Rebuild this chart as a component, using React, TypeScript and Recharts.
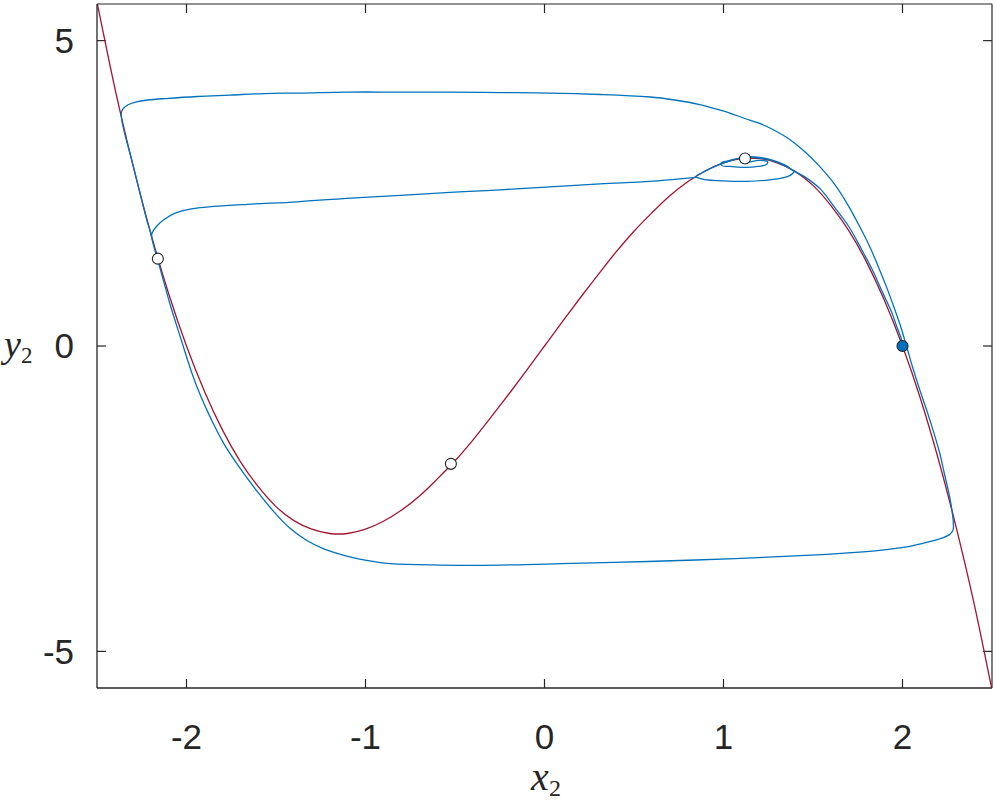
import { ComposedChart, Line, Scatter, XAxis, YAxis, ReferenceLine } from 'recharts';

const X_TICKS = [-2, -1, 0, 1, 2];
const Y_TICKS = [-5, 0, 5];
const X_DOMAIN: [number, number] = [-2.5, 2.5];
const Y_DOMAIN: [number, number] = [-5.6, 5.6];

const AXIS = '#262626';
const RED = '#A2142F';
const BLUE = '#0072BD';

// cubic nullcline (red)
const nullcline: [number, number][] = [
  [-2.5, 5.63], [-2.4, 4.22], [-2.3, 2.97], [-2.2, 1.85], [-2.1, 0.86], [-2.0, 0],
  [-1.9, -0.74], [-1.8, -1.37], [-1.7, -1.89], [-1.6, -2.3], [-1.5, -2.63], [-1.4, -2.86],
  [-1.3, -3.0], [-1.2, -3.07], [-1.1, -3.07], [-1.0, -3.0], [-0.9, -2.87], [-0.8, -2.69],
  [-0.7, -2.46], [-0.6, -2.18], [-0.5, -1.88], [-0.4, -1.54], [-0.3, -1.17], [-0.2, -0.79],
  [-0.1, -0.4], [0, 0], [0.1, 0.4], [0.2, 0.79], [0.3, 1.17], [0.4, 1.54], [0.5, 1.88],
  [0.6, 2.18], [0.7, 2.46], [0.8, 2.69], [0.9, 2.87], [1.0, 3.0], [1.1, 3.07], [1.2, 3.07],
  [1.3, 3.0], [1.4, 2.86], [1.5, 2.63], [1.6, 2.3], [1.7, 1.89], [1.8, 1.37], [1.9, 0.74],
  [2.0, 0], [2.1, -0.86], [2.2, -1.85], [2.3, -2.97], [2.4, -4.22], [2.5, -5.63],
];

// spiral around the upper knee, then down the right branch to the stable point
const settlePath: [number, number][] = [
  [1.135, 3.007], [1.202, 3.039], [1.247, 2.998], [1.191, 2.941], [1.119, 2.925],
  [1.035, 2.941], [0.985, 2.974], [1.024, 3.031], [1.119, 3.088], [1.213, 3.072],
  [1.303, 3.007], [1.37, 2.908], [1.392, 2.843], [1.342, 2.761], [1.23, 2.712],
  [1.13, 2.696], [1.007, 2.704], [0.851, 2.761], [0.895, 2.859], [0.979, 2.974],
  [1.063, 3.056], [1.119, 3.096], [1.202, 3.088], [1.286, 3.031], [1.347, 2.958],
  [1.397, 2.859], [1.459, 2.761], [1.543, 2.565], [1.621, 2.271], [1.699, 1.961],
  [1.771, 1.585], [1.838, 1.209], [1.888, 0.882], [1.939, 0.556], [1.967, 0.327],
  [1.994, 0.114], [2.0, 0],
];

// large relaxation loop
const orbitPath: [number, number][] = [
  [0.851, 2.761], [0.728, 2.729], [0.589, 2.696], [0.31, 2.655], [0.031, 2.606],
  [-0.248, 2.557], [-0.527, 2.516], [-0.806, 2.467], [-1.102, 2.418], [-1.381, 2.361],
  [-1.66, 2.32], [-1.85, 2.285], [-1.98, 2.24], [-2.06, 2.18], [-2.123, 2.075],
  [-2.167, 1.961], [-2.19, 1.863], [-2.195, 1.781], [-2.162, 1.422], [-2.131, 1.095],
  [-2.089, 0.654], [-2.031, 0.114], [-1.972, -0.425], [-1.919, -0.833], [-1.863, -1.193],
  [-1.794, -1.585], [-1.707, -1.977], [-1.604, -2.386], [-1.51, -2.72], [-1.42, -2.99],
  [-1.33, -3.18], [-1.236, -3.317], [-1.14, -3.41], [-1.046, -3.48], [-0.95, -3.53],
  [-0.862, -3.562], [-0.639, -3.585], [-0.393, -3.592], [0.092, -3.565], [0.577, -3.529],
  [1.063, -3.48], [1.548, -3.415], [1.78, -3.37], [1.911, -3.333], [2.04, -3.28],
  [2.151, -3.203], [2.225, -3.14], [2.262, -3.088], [2.28, -3.03], [2.285, -2.958],
  [2.279, -2.745], [2.262, -2.451], [2.234, -2.092], [2.206, -1.732], [2.151, -1.193],
  [2.095, -0.703], [2.056, -0.343], [2.022, 0], [1.989, 0.327], [1.95, 0.654],
  [1.911, 0.964], [1.866, 1.291], [1.816, 1.634], [1.76, 1.961], [1.693, 2.32],
  [1.621, 2.647], [1.537, 2.941], [1.453, 3.186], [1.37, 3.382], [1.286, 3.529],
  [1.202, 3.644], [1.119, 3.725], [1.007, 3.84], [0.867, 3.954], [0.728, 4.028],
  [0.589, 4.077], [0.31, 4.118], [0.031, 4.142], [-0.248, 4.15], [-0.527, 4.158],
  [-0.806, 4.158], [-1.102, 4.158], [-1.364, 4.142], [-1.565, 4.134], [-1.755, 4.109],
  [-1.939, 4.085], [-2.117, 4.052], [-2.218, 4.028], [-2.285, 3.995], [-2.329, 3.946],
  [-2.357, 3.873], [-2.365, 3.791], [-2.351, 3.546], [-2.307, 3.056], [-2.265, 2.565],
  [-2.223, 2.075], [-2.201, 1.863], [-2.195, 1.781],
];

const unstablePts: [number, number][] = [[-2.16, 1.43], [-0.523, -1.93], [1.12, 3.07]];
const stablePts: [number, number][] = [[2.0, 0]];

const rows = (pts: [number, number][]) => pts.map(([x, y]) => ({ x, y }));

// smooth curve through the points (tangents scaled by chord length, no overshoot)
const smooth = (context: any) => {
  let pts: number[][] = [];
  return {
    areaStart() {},
    areaEnd() {},
    lineStart() {
      pts = [];
    },
    point(x: number, y: number) {
      pts.push([x, y]);
    },
    lineEnd() {
      if (!pts.length) return;
      context.moveTo(pts[0][0], pts[0][1]);
      const dir = (i: number) => {
        const a = pts[Math.max(i - 1, 0)];
        const b = pts[Math.min(i + 1, pts.length - 1)];
        const dx = b[0] - a[0];
        const dy = b[1] - a[1];
        const len = Math.hypot(dx, dy) || 1;
        return [dx / len, dy / len];
      };
      for (let i = 0; i < pts.length - 1; i++) {
        const p1 = pts[i];
        const p2 = pts[i + 1];
        const d = Math.hypot(p2[0] - p1[0], p2[1] - p1[1]) / 3;
        const t1 = dir(i);
        const t2 = dir(i + 1);
        context.bezierCurveTo(
          p1[0] + t1[0] * d, p1[1] + t1[1] * d,
          p2[0] - t2[0] * d, p2[1] - t2[1] * d,
          p2[0], p2[1],
        );
      }
    },
  };
};

const tickFont = { fill: AXIS, fontSize: 35, fontFamily: 'Liberation Sans, Arial, sans-serif' };

// inward tick length, in data units (about 9 px)
const TICK_DX = 0.05;
const TICK_DY = 0.147;

const XLabel = () => (
  <text x={546} y={790} textAnchor="middle" fill={AXIS}
    fontFamily="Liberation Serif, serif" fontStyle="italic" fontSize={40}>
    x<tspan fontStyle="normal" fontSize={24} dy={6}>2</tspan>
  </text>
);

const YLabel = () => (
  <text x={4} y={357} fill={AXIS}
    fontFamily="Liberation Serif, serif" fontStyle="italic" fontSize={38}>
    y<tspan fontStyle="normal" fontSize={23} dy={6}>2</tspan>
  </text>
);

const circle = (fill: string) => (props: any) => (
  <circle cx={props.cx} cy={props.cy} r={5.5} fill={fill} stroke={AXIS} strokeWidth={1.1} />
);

const seg = (x1: number, y1: number, x2: number, y2: number, key: string) => (
  <ReferenceLine key={key} xAxisId="b" yAxisId="l" ifOverflow="visible"
    segment={[{ x: x1, y: y1 }, { x: x2, y: y2 }]} stroke={AXIS} strokeWidth={1.2} />
);

export default function App() {
  const [x0, x1] = X_DOMAIN;
  const [y0, y1] = Y_DOMAIN;
  return (
    <div style={{ width: 996, height: 801, background: '#fff' }}>
      <style>{'body{margin:0}'}</style>
      <ComposedChart width={996} height={801} margin={{ top: 4, right: 4, bottom: 0, left: 0 }}>
        <XAxis xAxisId="b" type="number" dataKey="x" domain={X_DOMAIN} ticks={X_TICKS}
          allowDataOverflow interval={0} height={113} tickLine={false} tickMargin={30}
          stroke={AXIS} strokeWidth={1.3} tick={tickFont} label={<XLabel />} />
        <YAxis yAxisId="l" type="number" dataKey="y" domain={Y_DOMAIN} ticks={Y_TICKS}
          allowDataOverflow interval={0} width={97} tickLine={false} tickMargin={17}
          stroke={AXIS} strokeWidth={1.3} tick={tickFont} label={<YLabel />} />

        {/* box: top and right edges */}
        {seg(x0, y1, x1, y1, 'top')}
        {seg(x1, y0, x1, y1, 'right')}
        {/* inward ticks on all four sides */}
        {X_TICKS.map((t) => seg(t, y0, t, y0 + TICK_DY, `xb${t}`))}
        {X_TICKS.map((t) => seg(t, y1, t, y1 - TICK_DY, `xt${t}`))}
        {Y_TICKS.map((t) => seg(x0, t, x0 + TICK_DX, t, `yl${t}`))}
        {Y_TICKS.map((t) => seg(x1, t, x1 - TICK_DX, t, `yr${t}`))}

        <Line xAxisId="b" yAxisId="l" data={rows(nullcline)} dataKey="y" type={smooth as any}
          stroke={RED} strokeWidth={1.3} dot={false} isAnimationActive={false} />
        <Line xAxisId="b" yAxisId="l" data={rows(orbitPath)} dataKey="y" type={smooth as any}
          stroke={BLUE} strokeWidth={1.3} dot={false} isAnimationActive={false} />
        <Line xAxisId="b" yAxisId="l" data={rows(settlePath)} dataKey="y" type={smooth as any}
          stroke={BLUE} strokeWidth={1.3} dot={false} isAnimationActive={false} />
        <Scatter xAxisId="b" yAxisId="l" data={rows(unstablePts)} dataKey="y"
          shape={circle('#ffffff')} isAnimationActive={false} />
        <Scatter xAxisId="b" yAxisId="l" data={rows(stablePts)} dataKey="y"
          shape={circle(BLUE)} isAnimationActive={false} />
      </ComposedChart>
    </div>
  );
}
